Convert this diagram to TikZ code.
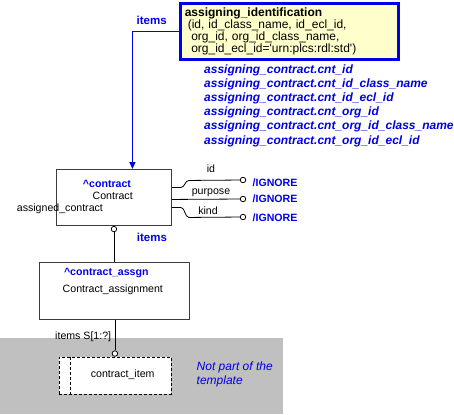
\documentclass[tikz,border=0pt]{standalone}
\usepackage{fontspec}
\setmainfont{Liberation Sans}
\usepackage{tikz}
\usetikzlibrary{arrows.meta, calc, positioning}
\definecolor{refblue}{RGB}{0,0,230}
\definecolor{idyellow}{RGB}{255,255,204}
\definecolor{outgray}{RGB}{192,192,192}
\definecolor{boxline}{RGB}{60,60,60}

\begin{document}
\begin{tikzpicture}[x=1pt, y=-1pt,
  entbox/.style={draw=boxline, line width=0.9pt, fill=white, anchor=north west, inner sep=0pt},
  small/.style={font=\fontsize{10.6}{12}\selectfont, inner sep=0pt},
  bluebold/.style={font=\fontsize{11.5}{12}\selectfont\bfseries, text=refblue, inner sep=0pt},
  endpt/.style={circle, draw=black, fill=white, line width=0.8pt, inner sep=0pt, minimum size=5.5pt},
  attrline/.style={draw=black, line width=0.8pt}]
\useasboundingbox (0,0) rectangle (454,414);
\fill[outgray] (0,338) rectangle (283,414);

% identification box
\node[draw=refblue, line width=3pt, fill=idyellow, anchor=north west, minimum width=218pt, minimum height=55.3pt,
  text width=209pt, inner xsep=4.5pt, inner ysep=0pt, align=left, font=\fontsize{12}{12}\selectfont] (aiid) at (178.8,2.5)
  {\textbf{assigning\_identification}\\
   \hspace*{3pt}(id, id\_class\_name, id\_ecl\_id,\\
   \hspace*{6.5pt}org\_id, org\_id\_class\_name,\\
   \hspace*{6.5pt}org\_id\_ecl\_id=\textquotesingle urn:plcs:rdl:std\textquotesingle)};
\node[bluebold, anchor=west] (itop) at (136.5,20.7) {items};
\foreach \val [count=\i from 0] in {cnt\_id, cnt\_id\_class\_name, cnt\_id\_ecl\_id, cnt\_org\_id, cnt\_org\_id\_class\_name, cnt\_org\_id\_ecl\_id}
  \node[font=\fontsize{12}{12}\selectfont\bfseries\itshape, text=refblue, inner sep=0pt, anchor=west] (ref\i) at (204,{70+14.2*\i}) {assigning\_contract.\val};

% entities
\node[entbox, minimum width=115pt, minimum height=56pt] (contract) at (56,169) {};
\node[bluebold, font=\fontsize{10.6}{12}\selectfont\bfseries] (cname) at (107,184.3) {\textasciicircum contract};
\node[small] (ctype) at (112.7,196) {Contract};
\node[small, anchor=west] (casg) at (16.7,208.3) {assigned\_contract};
\node[entbox, minimum width=150pt, minimum height=57pt] (assgn) at (38.5,262) {};
\node[bluebold, font=\fontsize{10.6}{12}\selectfont\bfseries] (aname) at (106.3,273.3) {\textasciicircum contract\_assgn};
\node[small] (atype) at (112.8,290) {Contract\_assignment};
\node[entbox, draw=black, dashed, dash pattern=on 3pt off 2pt, line width=0.8pt, minimum width=112pt, minimum height=37.3pt] (item) at (58.5,356.7) {};
\draw[black, line width=0.8pt, dash pattern=on 3pt off 2pt] ([xshift=12.3pt]item.north west) -- ([xshift=12.3pt]item.south west);
\node[small] (itype) at (122.7,375) {contract\_item};

% relations
\draw[refblue, line width=1.5pt, -{Triangle[width=6pt,length=7pt]}] (aiid.west) -| ([xshift=18.5pt]contract.north);
\node[endpt, below=0pt of contract] (ctro) {};
\draw[attrline] (ctro) -- (ctro |- assgn.north);
\node[bluebold, anchor=west] (ibot) at (136.7,237.3) {items};
\node[endpt, above=0pt of item] (citem) {};
\draw[attrline] (citem) -- (citem |- assgn.south);
\node[small, anchor=west] (iset) at (55,337) {items S[1:?]};

% attributes
\node[endpt] (cid) at (243,180) {};
\node[endpt] (cpur) at (243,199) {};
\node[endpt] (ckind) at (243,217) {};
\draw[attrline] ([yshift=10pt]contract.east) -- ++(9,0) .. controls +(4,0) and +(-4,0) .. ++(8,-7) -- (cid);
\draw[attrline] ([yshift=-2pt]contract.east) -- (cpur);
\draw[attrline] ([yshift=-10pt]contract.east) -- ++(9,0) .. controls +(4,0) and +(-4,0) .. ++(8,10) -- (ckind);
\node[small] (lid) at (211,168.3) {id};
\node[small] (lpur) at (211,192.7) {purpose};
\node[small] (lkind) at (208,211) {kind};
\node[bluebold, font=\fontsize{10.6}{12}\selectfont\bfseries, anchor=west] (gid) at (252.5,182.3) {/IGNORE};
\node[bluebold, font=\fontsize{10.6}{12}\selectfont\bfseries, anchor=west] (gpur) at (252.5,199) {/IGNORE};
\node[bluebold, font=\fontsize{10.6}{12}\selectfont\bfseries, anchor=west] (gkind) at (252.5,217.7) {/IGNORE};

% note
\node[font=\fontsize{12}{14}\selectfont\itshape, text=refblue, inner sep=0pt, align=left, anchor=west] (note) at (196.5,374.7) {Not part of the\\template};
\end{tikzpicture}
\end{document}
